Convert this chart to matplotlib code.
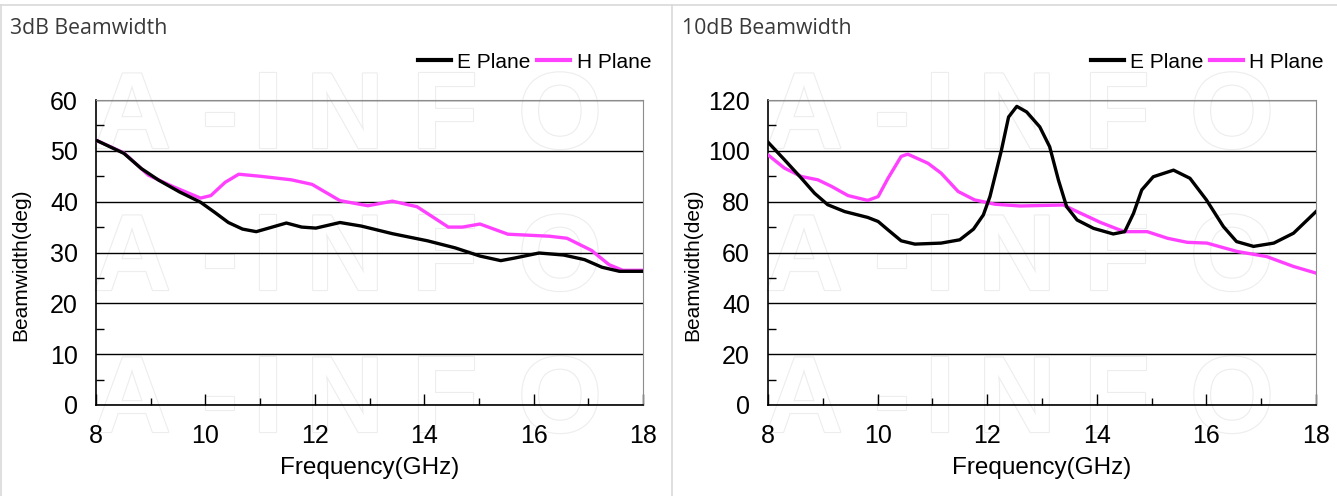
import matplotlib
matplotlib.use('Agg')
import matplotlib.pyplot as plt
import matplotlib.patheffects as pe
from matplotlib.ticker import MultipleLocator
from matplotlib.lines import Line2D

plt.rc('font', family=['Liberation Sans', 'DejaVu Sans'])

# 3dB beamwidth
f3_e = [8, 8.51, 8.83, 9.15, 9.53, 9.91, 10.17, 10.42, 10.68, 10.93, 11.19, 11.48, 11.76,
        12.02, 12.46, 12.85, 13.42, 14.06, 14.57, 15.02, 15.4, 15.65, 16.1, 16.55, 16.93,
        17.25, 17.57, 18]
bw3_e = [52.1, 49.5, 46.5, 44.2, 41.9, 39.9, 37.9, 35.9, 34.6, 34.1, 34.9, 35.8, 35.0,
         34.8, 35.9, 35.2, 33.7, 32.3, 30.9, 29.3, 28.4, 28.9, 29.9, 29.5, 28.6,
         27.1, 26.3, 26.3]
f3_h = [8, 8.51, 8.96, 9.4, 9.91, 10.1, 10.36, 10.61, 11.0, 11.57, 11.95, 12.46, 12.97,
        13.42, 13.87, 14.44, 14.7, 15.02, 15.53, 16.29, 16.61, 17.06, 17.38, 17.63, 18]
bw3_h = [52.1, 49.6, 45.2, 43.0, 40.7, 41.2, 43.8, 45.4, 45.0, 44.3, 43.4, 40.2, 39.2,
         40.1, 39.0, 35.0, 35.0, 35.6, 33.6, 33.2, 32.8, 30.4, 27.6, 26.5, 26.5]

# 10dB beamwidth
f10_e = [8, 8.3, 8.61, 8.85, 9.09, 9.4, 9.82, 10.01, 10.19, 10.43, 10.68, 11.16, 11.5,
         11.75, 11.93, 12.05, 12.17, 12.26, 12.39, 12.54, 12.72, 12.96, 13.14, 13.3, 13.45,
         13.64, 13.94, 14.3, 14.51, 14.67, 14.82, 15.03, 15.4, 15.7, 16.0, 16.31, 16.55,
         16.86, 17.23, 17.59, 18]
bw10_e = [103.4, 96.5, 89.2, 83.3, 78.8, 76.1, 73.8, 72.2, 68.9, 64.6, 63.3, 63.7, 65.0,
          69.2, 74.8, 82.0, 92.4, 100.3, 113.3, 117.5, 115.3, 109.4, 101.6, 88.5, 78.0,
          72.8, 69.5, 67.3, 68.2, 75.4, 84.6, 89.8, 92.4, 89.2, 80.7, 70.2, 64.3,
          62.4, 63.7, 67.6, 76.1]
f10_h = [8, 8.3, 8.61, 8.91, 9.16, 9.46, 9.82, 10.01, 10.19, 10.43, 10.55, 10.92, 11.16,
         11.47, 11.77, 12.14, 12.6, 13.39, 13.64, 14.07, 14.5, 14.92, 15.29, 15.65, 16.01,
         16.56, 17.1, 17.59, 18]
bw10_h = [98.4, 93.2, 89.9, 88.6, 86.0, 82.4, 80.5, 82.0, 89.2, 97.8, 98.7, 95.1, 91.2,
          84.0, 80.7, 79.0, 78.3, 78.7, 76.1, 71.8, 68.2, 68.2, 65.6, 64.0, 63.7,
          60.4, 58.4, 54.5, 51.9]

titles = ['3dB Beamwidth', '10dB Beamwidth']
ymax = [60, 120]
ystep = [10, 20]

W, H = 1337, 496
fig = plt.figure(figsize=(W / 100, H / 100), dpi=100)

# panel frames
fig.add_artist(Line2D([0, 1], [1 - 5 / H, 1 - 5 / H], color='#d9d9d9', lw=1.2))
fig.add_artist(Line2D([1 / W, 1 / W], [0, 1 - 5 / H], color='#d9d9d9', lw=1.2))
fig.add_artist(Line2D([672 / W, 672 / W], [0, 1 - 5 / H], color='#d9d9d9', lw=1.2))

# watermark letters
wm_letters = ['A', '-', 'I', 'N', 'F', 'O']
wm_x = [132, 220, 268, 345, 445, 560]
for off in [0, 672]:
    for row_y in [120, 262, 404]:
        for ch, xx in zip(wm_letters, wm_x):
            fig.text((xx + off) / W, 1 - row_y / H, ch, ha='center', va='center',
                     fontsize=78, fontweight='bold', color='white', zorder=-5,
                     path_effects=[pe.withStroke(linewidth=1.6, foreground='#ededed')])

axes_x = [(96, 643), (768, 1316)]
data = [((f3_e, bw3_e), (f3_h, bw3_h)), ((f10_e, bw10_e), (f10_h, bw10_h))]
magenta = '#ff40ff'

for i in range(2):
    x0, x1 = axes_x[i]
    ax = fig.add_axes([x0 / W, 1 - 405 / H, (x1 - x0) / W, 305 / H])
    ax.patch.set_alpha(0)
    (fe, ye), (fh, yh) = data[i]
    ax.plot(fe, ye, color='black', lw=2.4, solid_joinstyle='round', zorder=4)
    ax.plot(fh, yh, color=magenta, lw=2.4, solid_joinstyle='round', zorder=3)
    ax.set_xlim(8, 18)
    ax.set_ylim(0, ymax[i])
    ax.xaxis.set_major_locator(MultipleLocator(2))
    ax.xaxis.set_minor_locator(MultipleLocator(1))
    ax.yaxis.set_major_locator(MultipleLocator(ystep[i]))
    ax.yaxis.set_minor_locator(MultipleLocator(ystep[i] / 2))
    ax.grid(axis='y', which='major', color='black', lw=1.0)
    ax.set_axisbelow(True)
    ax.tick_params(axis='x', which='major', direction='in', length=8, width=1, labelsize=18, pad=14)
    ax.tick_params(axis='x', which='minor', direction='in', length=5, width=1)
    ax.tick_params(axis='y', which='major', direction='in', length=0, labelsize=18, pad=13)
    ax.tick_params(axis='y', which='minor', direction='in', length=6, width=1)
    for s in ['top', 'right']:
        ax.spines[s].set_color('#8c8c8c')
    for s in ['left', 'bottom']:
        ax.spines[s].set_color('black')
        ax.spines[s].set_linewidth(1.2)
    ax.set_xlabel('Frequency(GHz)', fontsize=17.5, labelpad=6)
    ax.set_ylabel('Beamwidth(deg)', fontsize=15)
    ax.yaxis.set_label_coords(-0.12, 0.46)

    pan_x = 0 if i == 0 else 672
    fig.text((pan_x + 10) / W, 1 - 28 / H, titles[i], fontsize=15.3, color='#3a3a3a',
             family=['Open Sans', 'DejaVu Sans'], va='center', ha='left')

    handles = [Line2D([], [], color='black', lw=3), Line2D([], [], color=magenta, lw=3)]
    fig.legend(handles, ['E Plane', 'H Plane'], loc='center right',
               bbox_to_anchor=((x1 + 8) / W, 1 - 62 / H), ncol=2, frameon=False,
               fontsize=15, handlelength=1.6, handletextpad=0.3, columnspacing=0.3,
               borderaxespad=0, borderpad=0)

fig.savefig('out.png', dpi=100)
